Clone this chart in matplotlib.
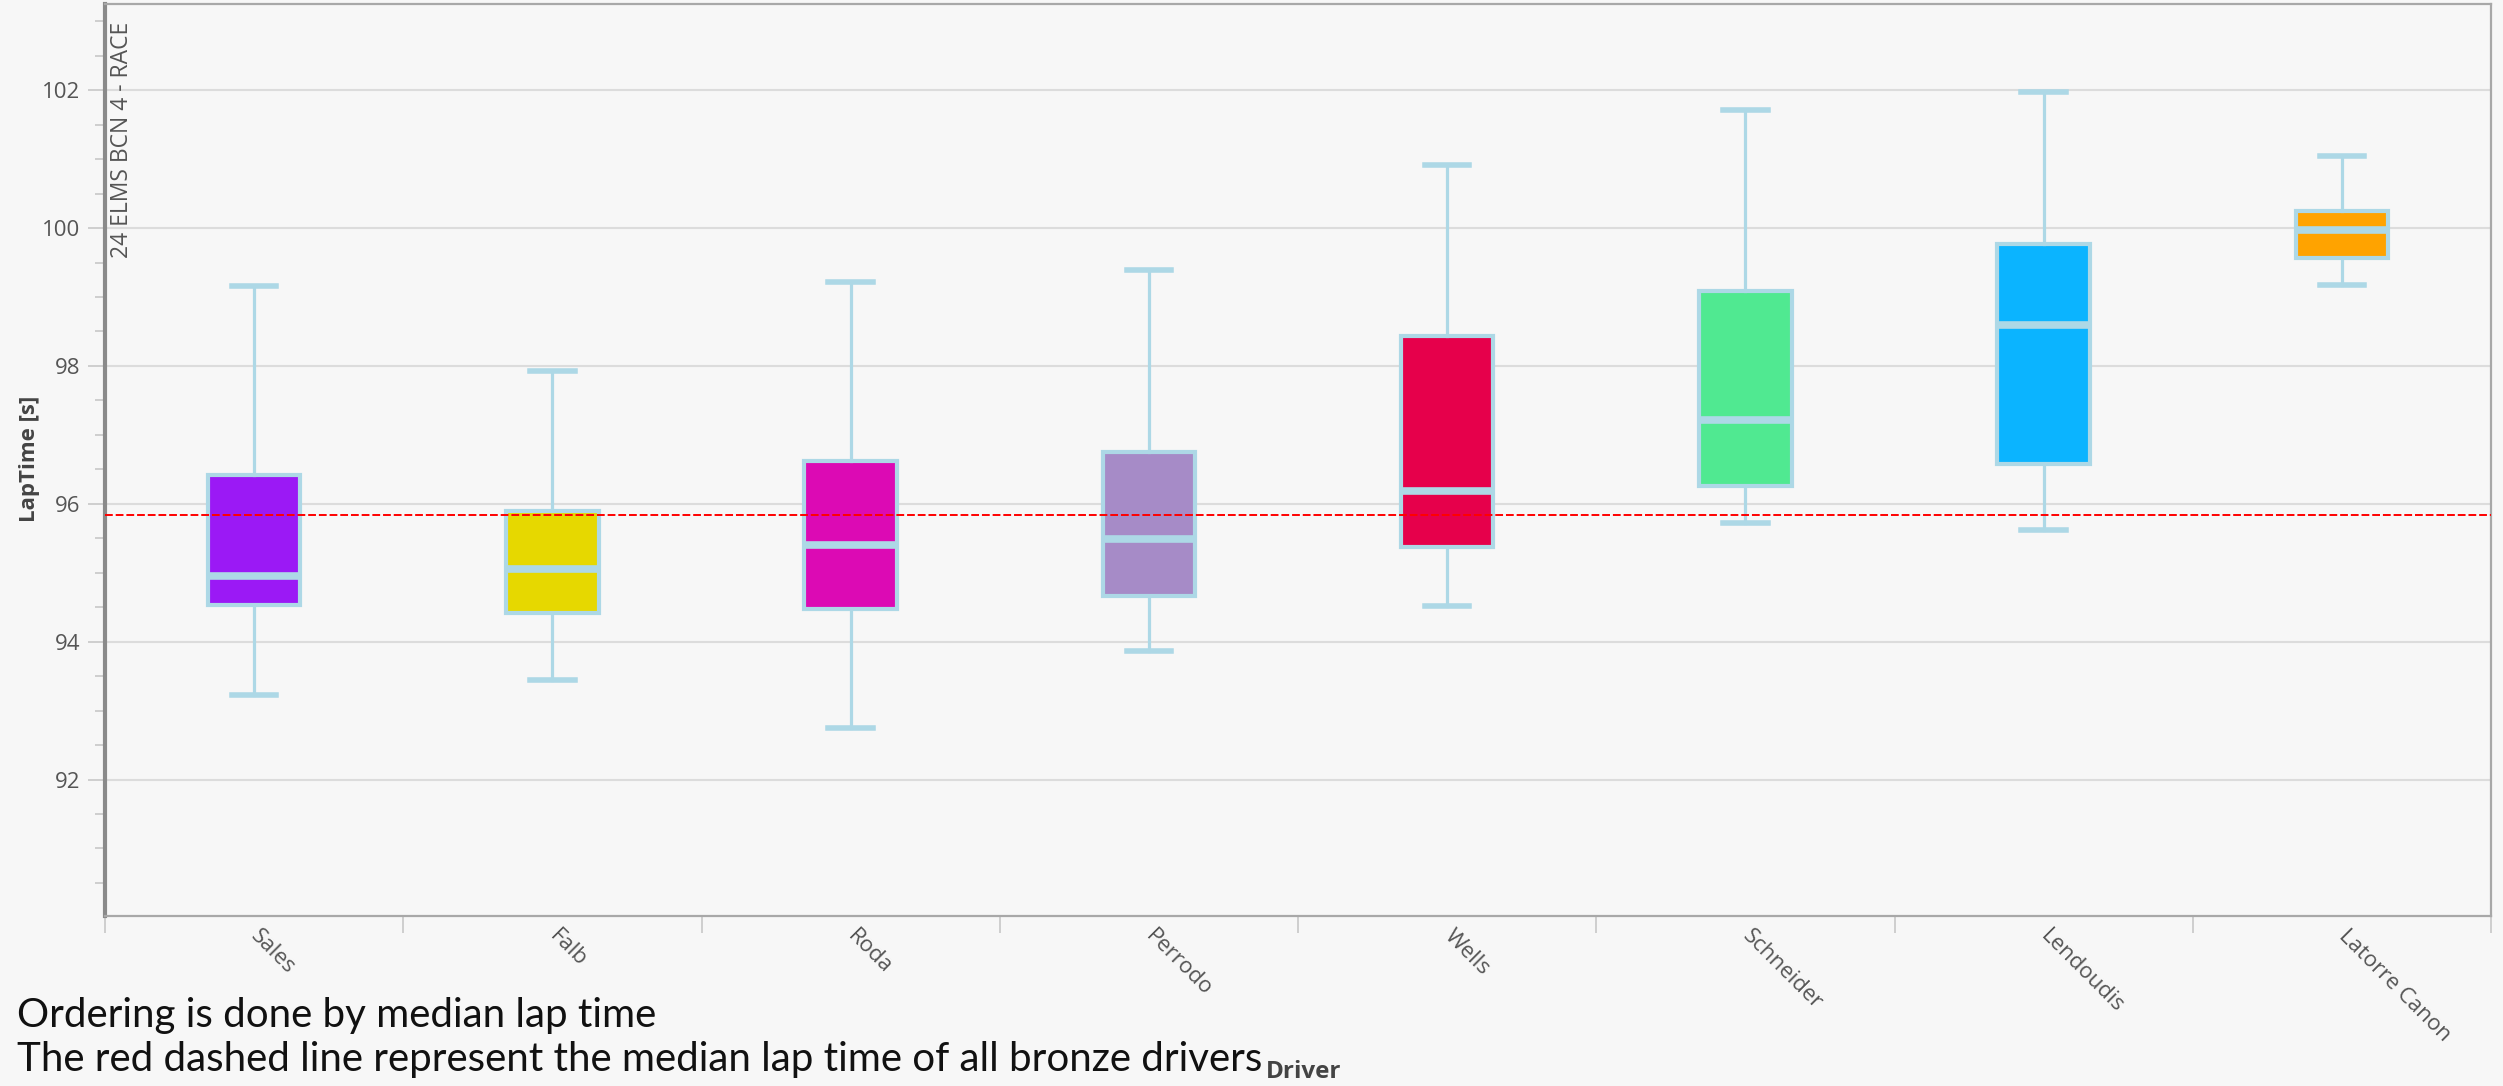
import matplotlib.pyplot as plt
from matplotlib.ticker import MultipleLocator, FixedLocator

drivers = ["Sales", "Falb", "Roda", "Perrodo", "Wells", "Schneider", "Lendoudis", "Latorre Canon"]
whis_low = [93.23, 93.44, 92.74, 93.86, 94.51, 95.72, 95.62, 99.17]
q1 = [94.53, 94.42, 94.47, 94.66, 95.37, 96.26, 96.58, 99.56]
median = [94.95, 95.05, 95.40, 95.49, 96.19, 97.21, 98.59, 99.97]
q3 = [96.42, 95.89, 96.62, 96.75, 98.43, 99.08, 99.77, 100.25]
whis_high = [99.16, 97.93, 99.21, 99.39, 100.92, 101.71, 101.97, 101.05]
colors = ["#9b19f5", "#e6d800", "#dc0ab4", "#a68bc7", "#e6004b", "#50e991", "#0bb4ff", "#ffa300"]
bronze_median = 95.84

bg = "#f7f7f7"
edge = "#add8e6"

fig = plt.figure(figsize=(25.03, 10.86), dpi=100, facecolor=bg)
ax = fig.add_axes([105 / 2503, 1 - 916 / 1086, (2491 - 105) / 2503, (916 - 4) / 1086])
ax.set_facecolor(bg)

stats = []
for i, name in enumerate(drivers):
    stats.append(dict(label=name, whislo=whis_low[i], q1=q1[i], med=median[i],
                      q3=q3[i], whishi=whis_high[i], fliers=[]))

pos = list(range(len(drivers)))
bp = ax.bxp(stats, positions=pos, widths=0.31, capwidths=0.15, patch_artist=True,
            showfliers=False,
            boxprops=dict(edgecolor=edge, linewidth=3.0),
            medianprops=dict(color=edge, linewidth=5.5, solid_capstyle="butt"),
            whiskerprops=dict(color=edge, linewidth=2.3),
            capprops=dict(color=edge, linewidth=4.0))
for patch, c in zip(bp["boxes"], colors):
    patch.set_facecolor(c)
    patch.set_zorder(3)
for k in ("medians", "whiskers", "caps"):
    for ln in bp[k]:
        ln.set_zorder(4)

# median of all bronze drivers
ax.axhline(bronze_median, color="#ff0000", linestyle=(0, (4, 1.5)), linewidth=1.4, zorder=5)

ax.set_xlim(-0.5, len(drivers) - 0.5)
ax.set_ylim(90.02, 103.25)

ax.yaxis.set_major_locator(MultipleLocator(2))
ax.yaxis.set_minor_locator(MultipleLocator(0.5))
ax.grid(axis="y", which="major", color="#dcdcdc", linewidth=1.5, zorder=0)
ax.set_axisbelow(True)

ax.set_xticks(pos)
ax.set_xticklabels(drivers, rotation=-45, ha="left", va="center", rotation_mode="anchor",
                   fontsize=16, color="#555555", family="Open Sans")
ax.xaxis.set_minor_locator(FixedLocator([p - 0.5 for p in range(len(drivers) + 1)]))
ax.tick_params(axis="x", which="major", length=0, pad=12)
ax.tick_params(axis="x", which="minor", length=12, width=1.2, color="#c8c8c8")
ax.tick_params(axis="y", which="major", length=12, width=1.2, color="#c8c8c8",
               labelsize=16, labelcolor="#555555", pad=6)
ax.tick_params(axis="y", which="minor", length=7, width=1.2, color="#c8c8c8")
for lab in ax.get_yticklabels():
    lab.set_family("Open Sans")

for s in ("top", "right", "bottom"):
    ax.spines[s].set_color("#a8a8a8")
    ax.spines[s].set_linewidth(1.6)
ax.spines["left"].set_color("#8a8a8a")
ax.spines["left"].set_linewidth(3)

fig.text(122 / 2503, 1 - 258 / 1086, "24 ELMS BCN 4 - RACE", rotation=90, ha="center", va="bottom",
         fontsize=16.5, color="#555555", family="Open Sans")
fig.text(30 / 2503, 1 - 522 / 1086, "LapTime [s]", rotation=90, ha="center", va="bottom",
         fontsize=16, fontweight="bold", color="#444444", family="Open Sans")
fig.text(1304 / 2503, 1 - 1072 / 1086, "Driver", ha="center", va="center",
         fontsize=17.5, fontweight="bold", color="#444444", family="Open Sans")

fig.text(17 / 2503, 1 - 1015 / 1086, "Ordering is done by median lap time", ha="left", va="center",
         fontsize=29, color="#111111", family="Lato")
fig.text(17 / 2503, 1 - 1059 / 1086,
         "The red dashed line represent the median lap time of all bronze drivers",
         ha="left", va="center", fontsize=29, color="#111111", family="Lato")

fig.savefig("out.png", dpi=100, facecolor=bg)
